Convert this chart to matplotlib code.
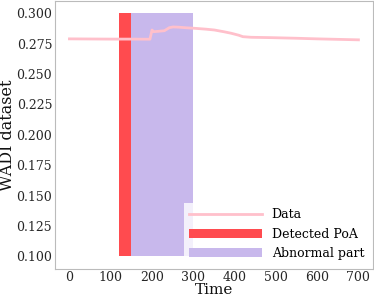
import numpy as np
import matplotlib
matplotlib.use('Agg')
import matplotlib.pyplot as plt

plt.rcParams['font.family'] = ['DejaVu Serif']

# series
time = [0, 50, 100, 150, 190, 195, 200, 204, 215, 230, 242, 251, 265, 280,
        303, 330, 351, 375, 392, 410, 420, 440, 489, 550, 600, 650, 700]
data = [0.2790, 0.2789, 0.2788, 0.2788, 0.2787, 0.2787, 0.2863, 0.2849,
        0.2852, 0.2857, 0.2882, 0.2888, 0.2886, 0.2882, 0.2877, 0.2870,
        0.2863, 0.2848, 0.2836, 0.2820, 0.2808, 0.2803, 0.2800, 0.2795,
        0.2790, 0.2786, 0.2782]

poa_range = [120, 150]
abnormal_range = [150, 300]
band = [0.1, 0.3]

fig = plt.figure(figsize=(3.74, 2.99), dpi=100)
ax = fig.add_axes([0.147, 0.102, 0.85, 0.894])

ax.plot(time, data, color='pink', lw=2, label='Data', zorder=3)
ax.fill_between(poa_range, band[0], band[1], color='#ff4b4f', lw=0,
                label='Detected PoA')
ax.fill_between(abnormal_range, band[0], band[1], color='#c8b8ec', lw=0,
                label='Abnormal part')

ax.set_xticks([0, 100, 200, 300, 400, 500, 600, 700])
ax.set_yticks([0.100, 0.125, 0.150, 0.175, 0.200, 0.225, 0.250, 0.275, 0.300])
ax.tick_params(length=0, labelsize=9, colors='#262626', pad=2)
for s in ax.spines.values():
    s.set_color('#bbbbbb')

ax.set_xlabel('Time', fontsize=11, labelpad=-1, color='#111111')
ax.set_ylabel('WADI dataset', fontsize=11.5, labelpad=0, color='#111111')

leg = ax.legend(loc='lower right', fontsize=9, handlelength=5.8,
                frameon=True, framealpha=0.8, edgecolor='none',
                fancybox=False, borderaxespad=0.3)

fig.savefig('out.png', dpi=100)
